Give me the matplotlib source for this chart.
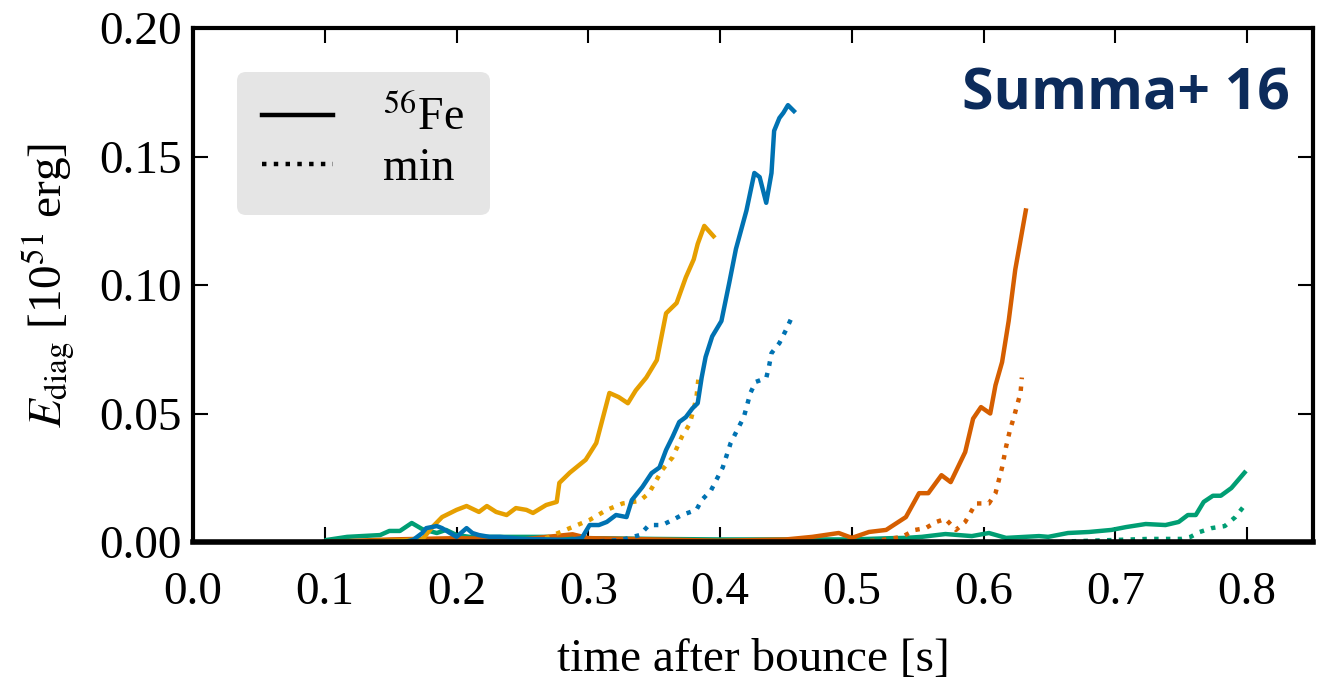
import matplotlib
matplotlib.use('Agg')
import matplotlib.pyplot as plt
from matplotlib.lines import Line2D

# diagnostic explosion energy vs time after bounce
t_yel = [0.10, 0.15, 0.174, 0.182, 0.189, 0.200, 0.2076, 0.217, 0.223, 0.230, 0.238, 0.245, 0.253, 0.258,
         0.268, 0.276, 0.278, 0.286, 0.298, 0.306, 0.316, 0.323, 0.330, 0.336, 0.344, 0.352, 0.359,
         0.367, 0.374, 0.380, 0.383, 0.388, 0.395]
e_yel = [0.0, 0.0005, 0.001, 0.006, 0.0097, 0.0125, 0.014, 0.0117, 0.014, 0.0117, 0.0105, 0.0132, 0.0125, 0.0113,
         0.0144, 0.0156, 0.023, 0.027, 0.032, 0.0385, 0.058, 0.0564, 0.054, 0.059, 0.064, 0.0708, 0.089,
         0.093, 0.103, 0.110, 0.116, 0.123, 0.119]
t_yel_min = [0.25, 0.263, 0.286, 0.301, 0.314, 0.326, 0.339, 0.346, 0.356, 0.364, 0.371, 0.377, 0.382, 0.384]
e_yel_min = [0.0, 0.0005, 0.0054, 0.0086, 0.0125, 0.015, 0.016, 0.019, 0.028, 0.033, 0.041, 0.046, 0.056, 0.066]

t_blu = [0.10, 0.16, 0.167, 0.174, 0.177, 0.185, 0.189, 0.195, 0.200, 0.2076, 0.212, 0.217, 0.225, 0.233,
         0.25, 0.27, 0.285, 0.295, 0.301, 0.308, 0.314, 0.321, 0.329, 0.333, 0.341, 0.348, 0.354, 0.359,
         0.364, 0.369, 0.374, 0.379, 0.383, 0.386, 0.389, 0.394, 0.401, 0.407, 0.412, 0.420, 0.426,
         0.430, 0.435, 0.439, 0.441, 0.445, 0.448, 0.4515, 0.456]
e_blu = [0.0, 0.0, 0.0008, 0.0035, 0.0054, 0.0062, 0.0054, 0.0035, 0.002, 0.0054, 0.0035, 0.0027, 0.002, 0.002,
         0.0012, 0.001, 0.0008, 0.0015, 0.0066, 0.0066, 0.0078, 0.0105, 0.0097, 0.0163, 0.0214, 0.0268, 0.029, 0.0358,
         0.041, 0.0467, 0.0486, 0.052, 0.054, 0.064, 0.072, 0.080, 0.086, 0.101, 0.114, 0.129, 0.1436,
         0.142, 0.132, 0.1436, 0.160, 0.165, 0.167, 0.170, 0.1677]
t_blu_min = [0.30, 0.325, 0.339, 0.346, 0.356, 0.364, 0.371, 0.382, 0.386, 0.393, 0.398, 0.402, 0.408, 0.413,
             0.418, 0.423, 0.427, 0.435, 0.437, 0.439, 0.445, 0.450, 0.454]
e_blu_min = [0.0, 0.0008, 0.0027, 0.0066, 0.0066, 0.0086, 0.0105, 0.0125, 0.0163, 0.020, 0.025, 0.029, 0.0385, 0.0436,
             0.0486, 0.058, 0.0623, 0.0638, 0.068, 0.0735, 0.0774, 0.0825, 0.087]

t_red = [0.10, 0.15, 0.20, 0.25, 0.288, 0.30, 0.35, 0.40, 0.45, 0.47, 0.490, 0.500, 0.513, 0.526, 0.541,
         0.551, 0.558, 0.568, 0.575, 0.586, 0.592, 0.598, 0.605, 0.609, 0.614, 0.619, 0.624, 0.632]
e_red = [0.0, 0.001, 0.0015, 0.001, 0.003, 0.0015, 0.001, 0.0005, 0.001, 0.002, 0.0035, 0.0016, 0.0039, 0.0047, 0.0097,
         0.019, 0.019, 0.026, 0.0233, 0.035, 0.048, 0.0525, 0.050, 0.061, 0.070, 0.086, 0.106, 0.129]
t_red_min = [0.505, 0.523, 0.538, 0.548, 0.556, 0.564, 0.571, 0.579, 0.586, 0.594, 0.604, 0.609, 0.614, 0.617,
             0.620, 0.623, 0.625, 0.628, 0.629]
e_red_min = [0.0, 0.0008, 0.002, 0.0047, 0.0054, 0.0078, 0.009, 0.0047, 0.0078, 0.015, 0.015, 0.019, 0.029, 0.037,
             0.0436, 0.0486, 0.0525, 0.058, 0.064]

t_grn = [0.1015, 0.117, 0.142, 0.149, 0.157, 0.166, 0.174, 0.185, 0.192, 0.200, 0.210, 0.223, 0.242, 0.268,
         0.30, 0.35, 0.40, 0.45, 0.50, 0.53, 0.541, 0.553, 0.571, 0.591, 0.604, 0.617, 0.642, 0.649, 0.664,
         0.680, 0.697, 0.708, 0.723, 0.738, 0.748, 0.755, 0.761, 0.767, 0.774, 0.780, 0.788, 0.798]
e_grn = [0.0008, 0.002, 0.0027, 0.0043, 0.0043, 0.0074, 0.005, 0.0035, 0.0047, 0.0027, 0.002, 0.002, 0.002, 0.002,
         0.0015, 0.0012, 0.001, 0.001, 0.001, 0.0015, 0.0016, 0.002, 0.0031, 0.0023, 0.0035, 0.0016, 0.0023, 0.002, 0.0035,
         0.0039, 0.0047, 0.0058, 0.007, 0.0066, 0.0078, 0.0105, 0.0105, 0.0156, 0.018, 0.018, 0.021, 0.027]
t_grn_min = [0.649, 0.700, 0.725, 0.750, 0.757, 0.764, 0.773, 0.783, 0.791, 0.797]
e_grn_min = [0.0, 0.0008, 0.0012, 0.0012, 0.002, 0.0039, 0.0054, 0.0062, 0.0097, 0.0136]

plt.rcParams['font.family'] = 'Liberation Serif'
plt.rcParams['mathtext.fontset'] = 'stix'

fig = plt.figure(figsize=(13.34, 6.84), dpi=100)
ax = fig.add_axes([0.1447, 0.2076, 0.8396, 0.7514])

lw = 3.2
ax.plot(t_grn, e_grn, color='#009E73', lw=lw)
ax.plot(t_grn_min, e_grn_min, color='#009E73', lw=lw, ls=':')
ax.plot(t_red, e_red, color='#D55E00', lw=lw)
ax.plot(t_red_min, e_red_min, color='#D55E00', lw=lw, ls=':')
ax.plot(t_yel, e_yel, color='#E69F00', lw=lw)
ax.plot(t_yel_min, e_yel_min, color='#E69F00', lw=lw, ls=':')
ax.plot(t_blu, e_blu, color='#0072B2', lw=lw)
ax.plot(t_blu_min, e_blu_min, color='#0072B2', lw=lw, ls=':')

ax.set_xlim(0, 0.85)
ax.set_ylim(0, 0.20)
ax.set_xticks([0.0, 0.1, 0.2, 0.3, 0.4, 0.5, 0.6, 0.7, 0.8])
ax.set_yticks([0.0, 0.05, 0.10, 0.15, 0.20])
ax.set_yticklabels(['0.00', '0.05', '0.10', '0.15', '0.20'])
ax.tick_params(direction='in', top=True, right=True, length=11, width=1.5, labelsize=34)
ax.tick_params(axis='x', pad=21)
ax.tick_params(axis='y', pad=8)
for s in ax.spines.values():
    s.set_linewidth(3)
ax.spines['bottom'].set_linewidth(4)

ax.set_xlabel('time after bounce [s]', fontsize=34, labelpad=18)
ax.set_ylabel(r'$E_{\rm diag}$ [10$^{51}$ erg]', fontsize=34, labelpad=16)

handles = [Line2D([], [], color='k', lw=lw), Line2D([], [], color='k', lw=lw, ls=':')]
leg = ax.legend(handles, [r'$^{56}$Fe', 'min'], loc='upper left', fontsize=33,
                frameon=True, fancybox=True, handlelength=1.55, handletextpad=1.1,
                borderpad=0.55, labelspacing=0.15, borderaxespad=0,
                bbox_to_anchor=(0.039, 0.914))
leg.get_frame().set_facecolor('#e5e5e5')
leg.get_frame().set_edgecolor('none')
leg.get_frame().set_alpha(1)

ax.text(0.979, 0.87, 'Summa+ 16', transform=ax.transAxes, ha='right', va='center',
        fontsize=41, fontweight='bold', family='Open Sans', color='#0c2b5b')

fig.savefig('out.png', dpi=100)
